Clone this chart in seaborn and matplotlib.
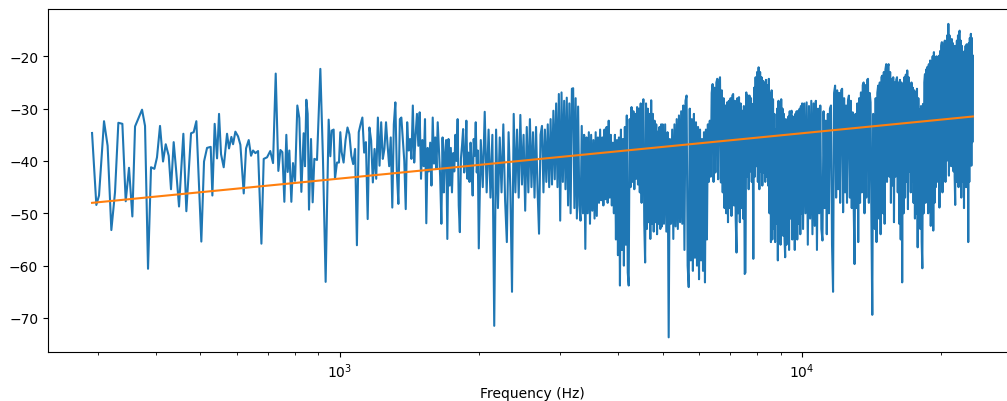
import numpy as np
import pandas as pd
import matplotlib
matplotlib.use("Agg")
import matplotlib.pyplot as plt
import seaborn as sns

# ---- low band: individual peaks/valleys (Hz, dB)
low_freq = [291.4, 297.7, 301.7, 309.3, 314.9, 320.8, 326.7, 332.2, 338.9, 344.6,
            350.3, 356.2, 361.0, 373.8, 379.4, 385.1, 390.9, 397.5, 402.7, 408.8,
            415.0, 420.6, 426.9, 431.8, 437.6, 442.7, 449.4, 459.2, 466.1, 477.1,
            483.4, 489.9, 502.2, 509.0, 516.7, 526.2, 530.6, 536.7, 543.1, 548.5,
            554.0, 561.4, 570.8, 576.5, 583.3, 588.2, 595.0, 603.0, 610.0, 620.3,
            627.5, 635.9, 643.3, 649.7, 657.4, 666.2, 677.4, 685.2, 696.7, 707.9,
            717.8, 727.4, 737.0, 744.5, 751.9, 759.4, 766.9, 772.1, 778.5, 786.3,
            792.8, 800.9, 810.1, 818.1, 826.5, 836.0, 841.6, 847.2, 852.9, 858.6,
            867.2, 874.4, 881.7, 893.5, 908.5, 920.4, 932.8, 946.9, 954.8, 961.2,
            970.7, 977.2, 987.0, 996.8, 1003.5]
low_db = [-34.65, -48.4, -46.6, -32.4, -37.1, -53.2, -46.0, -32.7, -32.9, -47.7,
          -41.3, -50.6, -33.4, -30.2, -33.3, -60.6, -41.2, -41.5, -39.3, -33.3,
          -40.1, -36.8, -39.0, -45.4, -36.4, -41.5, -48.7, -34.8, -49.6, -34.7,
          -34.5, -32.4, -55.4, -40.1, -37.5, -37.3, -46.6, -32.9, -39.5, -31.0,
          -38.7, -41.2, -34.8, -37.6, -35.4, -36.8, -34.4, -35.3, -36.9, -46.2,
          -37.6, -36.0, -39.0, -38.0, -38.5, -38.1, -55.8, -39.6, -39.3, -38.1,
          -40.4, -23.3, -41.9, -37.9, -38.3, -47.8, -35.0, -42.1, -38.0, -47.8,
          -40.4, -43.8, -29.4, -31.8, -45.9, -34.7, -41.0, -28.3, -31.0, -49.3,
          -35.8, -47.9, -39.6, -39.8, -22.4, -39.6, -63.1, -32.1, -39.1, -34.2,
          -34.0, -43.4, -40.3, -40.3, -34.5]

# ---- 1010 .. 2000 Hz, every 10 Hz
mid_start, mid_step = 1010.0, 10.0
mid_db = [-38.3, -40.3, -36, -33.6, -34.9, -39, -40.6, -37.7, -56.1, -34.5,
          -33, -31.7, -38.4, -36.4, -51.1, -33.6, -36.1, -44.1, -37.7, -43.4,
          -31.7, -40.9, -32.6, -39.6, -37.7, -32.6, -37.1, -41, -35.5, -48.9,
          -33, -28.8, -42.2, -48.2, -32, -31.7, -35.8, -40, -49.2, -32.6,
          -38, -35.8, -39.6, -29.4, -40.3, -35, -31, -37.1, -30.7, -43.4,
          -36, -41, -32, -51.9, -37.5, -42, -36.5, -44.7, -31.7, -40.5,
          -35.5, -41.5, -32.6, -38, -43, -52, -35.5, -46, -38.5, -36,
          -54.9, -35.8, -44.7, -37.5, -46, -38.5, -42, -35, -40, -32,
          -48.5, -53.6, -39.5, -37, -33.9, -42.2, -40, -32.3, -43.4, -38.4,
          -44, -36.5, -41, -46.6, -35.8, -39, -32.6, -42.2, -38, -56.7]

# ---- 2020 .. 5000 Hz, every 20 Hz
hi1_start, hi1_step = 2020.0, 20.0
hi1_db = [-36, -45, -30.6, -46, -34, -47, -35, -71.5, -34, -49,
          -35.5, -46, -33, -47.5, -55.5, -34.5, -45, -65, -31, -46,
          -34, -47, -31.2, -44.5, -35, -49.5, -33.5, -46, -32, -45,
          -34.5, -47, -33.5, -45.5, -53.9, -35, -33.3, -46, -34, -44,
          -33, -45, -32, -44.5, -30.4, -43.5, -29, -45, -27.2, -51.4,
          -26.9, -44, -28.5, -45.4, -27.9, -48.5, -29, -50, -26.2, -26.1,
          -49, -28, -51, -29.6, -48.5, -51.4, -33.3, -50, -35, -56.8,
          -35.5, -50, -34.5, -52, -35, -49.5, -36, -51, -34.5, -50.5,
          -35.5, -48, -34, -47.5, -35.5, -48.5, -34, -47.3, -33.5, -48,
          -32.3, -47, -35, -48.5, -36.5, -50, -35, -55, -36, -58,
          -35.5, -63.8, -34, -57, -35.8, -60, -33.5, -56, -31.3, -61.3,
          -63.8, -32, -45, -29.7, -44, -30.5, -45.4, -31, -43.4, -29.7,
          -44.5, -30, -46, -29, -48, -31, -28.2, -52, -59.4, -29,
          -53, -30, -51.7, -31, -54.9, -28.4, -52, -31, -53.5, -32.3,
          -51.7, -33, -54, -34.4, -52, -33.5, -53, -33, -52.5, -33]

# ---- 5030 .. 10010 Hz, every 30 Hz
hi2_start, hi2_step = 5030.0, 30.0
hi2_db = [-52, -33, -53.5, -34.5, -73.7, -35.8, -52, -34, -54.9, -33,
          -52.5, -32, -53, -31.3, -51.7, -30.5, -52, -29.4, -57, -28.5,
          -27.5, -60, -64.1, -30, -59, -32, -61, -31, -58.5, -32.6,
          -60, -33.5, -62.6, -34, -59, -35.8, -61, -34.5, -63.2, -34,
          -55, -33, -44, -32.3, -43, -27, -25.3, -44, -26, -42.2,
          -25, -24.3, -43.5, -25, -24, -44.1, -26.5, -46, -28, -49,
          -29.4, -50, -28.8, -51.7, -28.5, -49, -28, -50.5, -27.5, -27.2,
          -48.5, -28.5, -51, -57.5, -28, -50, -27.8, -51.7, -29, -49,
          -30.4, -51, -29.5, -61.6, -61.3, -26.9, -43, -27.5, -45.4, -27.5,
          -42, -28, -44, -29.1, -58.7, -26, -43, -24, -41, -23,
          -44, -22.1, -45.4, -23, -42, -24, -44.7, -24.7, -42.2, -25,
          -44, -24.5, -43, -25.5, -44.7, -24.3, -50, -27, -55.5, -26.5,
          -55, -28.2, -53, -31, -55.5, -33.9, -52, -30, -59, -28.5,
          -54, -29, -56, -28.2, -52, -30, -54.3, -31, -55, -58.4,
          -32, -56, -33.9, -52, -31.5, -57, -30.5, -51, -31, -30.4,
          -55, -31.5, -50, -32, -57, -31, -53, -30.5, -55, -31,
          -30.4, -52, -30, -54, -29.5, -50, -29]

# ---- 10057.5 .. 23437.5 Hz, every 60 Hz
hi3_start, hi3_step = 10057.5, 60.0
hi3_db = [-53, -29, -50, -28.8, -56, -29.5, -51, -28.5, -54, -29,
          -52.4, -28.5, -57, -30, -50, -29.4, -53, -55.2, -30.5, -49,
          -32.3, -54, -31, -50, -30, -29.4, -56, -65, -27, -25.6,
          -47, -26.5, -45.4, -27, -48, -26.5, -26.2, -49.8, -28, -46,
          -29.4, -48, -28.5, -27.5, -47, -28.5, -49, -30.7, -48, -59.7,
          -31, -49, -29, -55.5, -28, -48, -26.9, -46, -25.5, -25,
          -50, -25.5, -47, -24.5, -24.3, -48, -27, -28.8, -52, -69.4,
          -31, -32, -53, -28, -55.5, -27, -25.6, -51, -25, -54,
          -24, -23.7, -50, -23, -52, -22.5, -21.5, -44, -22, -21.5,
          -43, -23, -48, -24.3, -44.7, -24, -51.7, -25, -43, -24.5,
          -24, -46, -25, -52, -24.5, -55, -25, -63.2, -25.5, -50,
          -24, -47, -23.5, -44, -22.7, -49.2, -24, -42, -25.6, -46,
          -25, -44, -26, -48, -26.5, -51, -26.9, -50, -26.2, -56.5,
          -28, -52, -30.1, -53, -29.5, -55.5, -60.5, -29.1, -50, -25,
          -23.4, -48, -22.5, -45, -22, -50, -21.5, -47, -20.8, -52.4,
          -21, -46, -20, -53.3, -19.2, -48, -20.5, -45, -20, -44,
          -21, -42, -19.9, -48.9, -19, -43, -18, -17.3, -46, -18.5,
          -42, -17.5, -17, -44, -18, -40, -16, -38, -13.8, -42.8,
          -16, -37, -17, -41, -16.7, -39, -17.5, -42, -18, -43,
          -48.4, -18, -44, -17, -42, -16, -45, -15.5, -15.1, -40,
          -17, -47, -18, -44, -19.5, -19.9, -49, -19, -43, -18,
          -45, -17.7, -41, -18, -55.5, -17.5, -44, -16.5, -38, -15.7,
          -40.9, -16.5, -36.4, -19.9]

# ---- fitted trend line (end points)
fit_freq = [291.4, 23437.5]
fit_db = [-48.0, -31.5]

def grid(start, step, vals):
    return list(start + step * np.arange(len(vals)))

freq = (low_freq + grid(mid_start, mid_step, mid_db) + grid(hi1_start, hi1_step, hi1_db)
        + grid(hi2_start, hi2_step, hi2_db) + grid(hi3_start, hi3_step, hi3_db))
db = low_db + mid_db + hi1_db + hi2_db + hi3_db

spec = pd.DataFrame({"freq": freq, "db": db})
fit = pd.DataFrame({"freq": fit_freq, "db": fit_db})

W, H = 1007, 402
fig = plt.figure(figsize=(W / 100, H / 100), dpi=100)
ax = fig.add_axes([48 / W, (H - 353) / H, (1017 - 48) / W, (353 - 10) / H])

sns.lineplot(data=spec, x="freq", y="db", ax=ax, color="#1f77b4", linewidth=1.5,
             estimator=None, sort=False)
sns.lineplot(data=fit, x="freq", y="db", ax=ax, color="#ff7f0e", linewidth=1.5,
             estimator=None, sort=False)

ax.set_xscale("log")
ax.set_xlim(234, 29190)
ax.set_ylim(-76.5, -10.96)
ax.set_xlabel("Frequency (Hz)")
ax.set_ylabel("")

fig.savefig("out.png", dpi=100)
